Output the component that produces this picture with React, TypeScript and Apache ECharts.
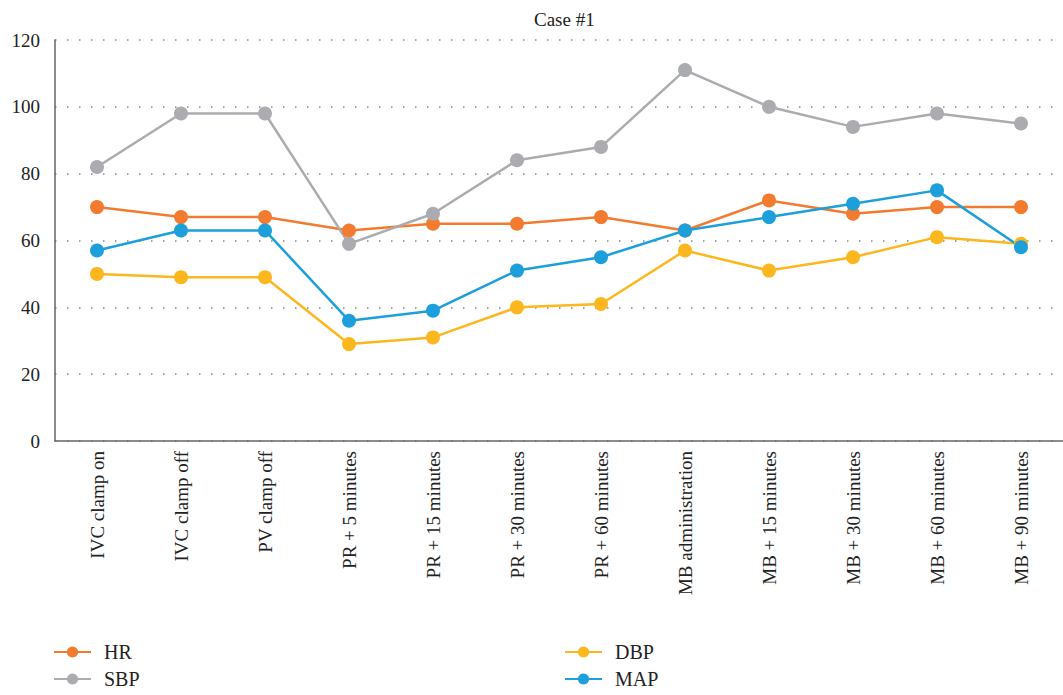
import React, { useEffect, useRef } from "react";
import * as echarts from "echarts";

const categories = [
  "IVC clamp on",
  "IVC clamp off",
  "PV clamp off",
  "PR + 5 minutes",
  "PR + 15 minutes",
  "PR + 30 minutes",
  "PR + 60 minutes",
  "MB administration",
  "MB + 15 minutes",
  "MB + 30 minutes",
  "MB + 60 minutes",
  "MB + 90 minutes",
];
const HR = [70, 67, 67, 63, 65, 65, 67, 63, 72, 68, 70, 70];
const SBP = [82, 98, 98, 59, 68, 84, 88, 111, 100, 94, 98, 95];
const DBP = [50, 49, 49, 29, 31, 40, 41, 57, 51, 55, 61, 59];
const MAP = [57, 63, 63, 36, 39, 51, 55, 63, 67, 71, 75, 58];

const colors: Record<string, string> = {
  HR: "#F37B2F",
  SBP: "#ABACB0",
  DBP: "#FDB71E",
  MAP: "#1C9FDA",
};

const FONT = "'Liberation Serif', serif";

export default function App() {
  const ref = useRef<HTMLDivElement>(null);
  useEffect(() => {
    if (!ref.current) return;
    const chart = echarts.init(ref.current, undefined, { renderer: "svg" });
    const mk = (name: string, data: number[]) => ({
      name,
      type: "line",
      data,
      symbol: "circle",
      symbolSize: 14,
      lineStyle: { width: 2.5, color: colors[name] },
      itemStyle: { color: colors[name] },
    });
    const legendText = {
      fontFamily: FONT,
      fontSize: 20,
      color: "#222",
      lineHeight: 22,
      padding: [0, 0, 0, 8],
    };
    chart.setOption({
      animation: false,
      textStyle: { fontFamily: FONT },
      title: {
        text: "Case #1",
        left: 529,
        top: 5,
        textStyle: { fontFamily: FONT, fontSize: 19, fontWeight: "normal", color: "#222" },
      },
      legend: [
        {
          orient: "vertical",
          data: ["HR", "SBP"],
          left: 53,
          top: 641,
          padding: 0,
          itemWidth: 37,
          itemHeight: 14,
          itemGap: 5,
          textStyle: legendText,
        },
        {
          orient: "vertical",
          data: ["DBP", "MAP"],
          left: 564,
          top: 641,
          padding: 0,
          itemWidth: 37,
          itemHeight: 14,
          itemGap: 5,
          textStyle: legendText,
        },
      ],
      grid: { left: 55, right: -7, top: 40, bottom: 254, containLabel: false },
      xAxis: {
        type: "category",
        data: categories,
        boundaryGap: true,
        axisLine: { show: true, lineStyle: { color: "#666", width: 1.5 } },
        axisTick: { show: false },
        axisLabel: {
          rotate: 90,
          interval: 0,
          margin: 10,
          fontFamily: FONT,
          fontSize: 19,
          color: "#222",
        },
        splitLine: { show: false },
      },
      yAxis: {
        type: "value",
        min: 0,
        max: 120,
        interval: 20,
        axisLine: { show: true, lineStyle: { color: "#666", width: 1.5 } },
        axisTick: { show: false },
        axisLabel: { fontFamily: FONT, fontSize: 19, color: "#222", margin: 15 },
        splitLine: { show: true, lineStyle: { color: "#888", width: 1.5, type: [1.5, 10.5] } },
      },
      series: [mk("HR", HR), mk("SBP", SBP), mk("DBP", DBP), mk("MAP", MAP)],
    });
    return () => chart.dispose();
  }, []);
  return (
    <div
      ref={ref}
      style={{ position: "fixed", left: 0, top: 0, width: 1063, height: 695, background: "#fff" }}
    />
  );
}
